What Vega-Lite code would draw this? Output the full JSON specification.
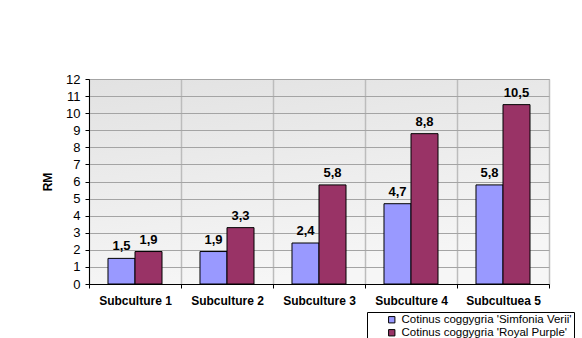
{
  "$schema": "https://vega.github.io/schema/vega-lite/v6.json",
  "autosize": "none",
  "width": 460,
  "height": 205,
  "padding": {"left": 89, "top": 79, "right": 33, "bottom": 54},
  "background": "white",
  "data": {
    "values": [
      {"sub": "Subculture 1", "variety": "Cotinus coggygria 'Simfonia Verii'", "rm": 1.5},
      {"sub": "Subculture 1", "variety": "Cotinus coggygria 'Royal Purple'", "rm": 1.9},
      {"sub": "Subculture 2", "variety": "Cotinus coggygria 'Simfonia Verii'", "rm": 1.9},
      {"sub": "Subculture 2", "variety": "Cotinus coggygria 'Royal Purple'", "rm": 3.3},
      {"sub": "Subculture 3", "variety": "Cotinus coggygria 'Simfonia Verii'", "rm": 2.4},
      {"sub": "Subculture 3", "variety": "Cotinus coggygria 'Royal Purple'", "rm": 5.8},
      {"sub": "Subculture 4", "variety": "Cotinus coggygria 'Simfonia Verii'", "rm": 4.7},
      {"sub": "Subculture 4", "variety": "Cotinus coggygria 'Royal Purple'", "rm": 8.8},
      {"sub": "Subcultuea 5", "variety": "Cotinus coggygria 'Simfonia Verii'", "rm": 5.8},
      {"sub": "Subcultuea 5", "variety": "Cotinus coggygria 'Royal Purple'", "rm": 10.5}
    ]
  },
  "encoding": {
    "x": {
      "field": "sub",
      "type": "nominal",
      "sort": null,
      "scale": {"paddingInner": 0, "paddingOuter": 0},
      "axis": {
        "title": null,
        "labelAngle": 0,
        "labelFontWeight": "bold",
        "labelFontSize": 12,
        "labelPadding": 7,
        "tickBand": "extent",
        "tickSize": 4,
        "grid": true,
        "gridColor": "#bcbcbc",
        "gridWidth": 1.5
      }
    },
    "xOffset": {
      "field": "variety",
      "type": "nominal",
      "sort": ["Cotinus coggygria 'Simfonia Verii'", "Cotinus coggygria 'Royal Purple'"],
      "scale": {"paddingInner": 0, "paddingOuter": 0.7037}
    },
    "y": {
      "field": "rm",
      "type": "quantitative",
      "scale": {"domain": [0, 12], "nice": false},
      "axis": {
        "title": "RM",
        "titleFontWeight": "bold",
        "titleFontSize": 12,
        "titlePadding": 11,
        "values": [0, 1, 2, 3, 4, 5, 6, 7, 8, 9, 10, 11, 12],
        "format": "d",
        "labelFontSize": 13,
        "labelPadding": 5,
        "tickSize": 4,
        "grid": true,
        "gridColor": "#a4a4a4",
        "gridWidth": 1
      }
    }
  },
  "layer": [
    {
      "mark": {"type": "bar", "stroke": "#000000", "strokeWidth": 1},
      "encoding": {
        "color": {
          "field": "variety",
          "type": "nominal",
          "scale": {
            "domain": ["Cotinus coggygria 'Simfonia Verii'", "Cotinus coggygria 'Royal Purple'"],
            "range": ["#9999FF", "#993366"]
          },
          "legend": {
            "title": null,
            "orient": "none",
            "legendX": 278,
            "legendY": 233,
            "strokeColor": "#000000",
            "padding": 2,
            "symbolType": "square",
            "symbolSize": 40,
            "symbolOffset": 17,
            "symbolStrokeColor": "#000000",
            "symbolStrokeWidth": 1,
            "labelFontSize": 11.5,
            "labelOffset": 4,
            "labelLimit": 400,
            "rowPadding": 0
          }
        }
      }
    },
    {
      "mark": {
        "type": "text",
        "baseline": "alphabetic",
        "dy": -8,
        "fontSize": 13,
        "fontWeight": "bold",
        "color": "#000000"
      },
      "encoding": {
        "text": {"field": "rm", "type": "quantitative", "format": ".1f"}
      }
    }
  ],
  "config": {
    "font": "Liberation Sans",
    "locale": {
      "number": {"decimal": ",", "thousands": ".", "grouping": [3], "currency": ["", " €"]}
    },
    "view": {
      "stroke": "#a0a0a0",
      "strokeWidth": 1,
      "fill": {
        "gradient": "linear",
        "x1": 0, "y1": 0, "x2": 0.3, "y2": 1,
        "stops": [
          {"offset": 0, "color": "#e2e2e2"},
          {"offset": 1, "color": "#f6f6f6"}
        ]
      }
    },
    "axis": {
      "domainColor": "#000000",
      "tickColor": "#000000",
      "labelColor": "#000000",
      "titleColor": "#000000",
      "labelFont": "Liberation Sans",
      "titleFont": "Liberation Sans"
    },
    "legend": {
      "labelColor": "#000000",
      "labelFont": "Liberation Sans"
    }
  }
}
